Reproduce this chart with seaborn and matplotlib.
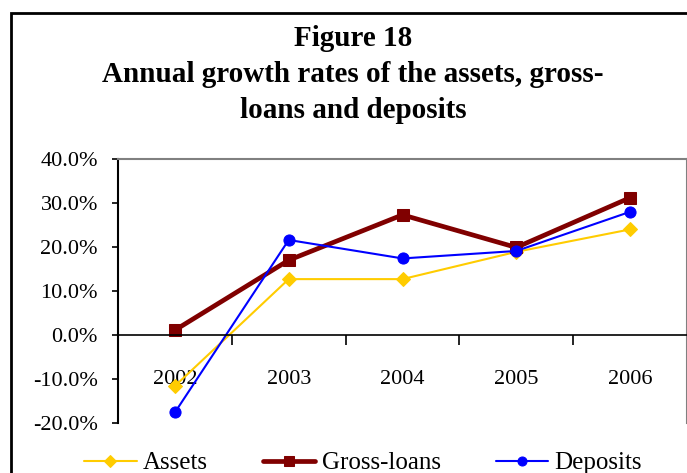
import pandas as pd
import matplotlib.pyplot as plt
import seaborn as sns
from matplotlib.patches import Rectangle
from matplotlib.ticker import PercentFormatter

years = ['2002', '2003', '2004', '2005', '2006']
assets = [-11.6, 12.7, 12.7, 18.9, 24.0]
gross_loans = [1.1, 17.0, 27.3, 19.9, 31.2]
deposits = [-17.6, 21.6, 17.4, 19.1, 28.0]

series_names = ['Assets', 'Gross-loans', 'Deposits']
colors = ['#FFCC00', '#800000', '#0000FF']
markers = ['D', 's', 'o']
widths = [1.5, 3.4, 1.5]
msizes = [7, 8, 8]

sns.set_style('white', {'text.color': 'black', 'xtick.color': 'black',
                        'ytick.color': 'black', 'axes.labelcolor': 'black'})
plt.rcParams['font.family'] = ['Liberation Serif', 'DejaVu Serif']
plt.rcParams['axes.unicode_minus'] = False

df = pd.DataFrame({'year': years * 3,
                   'rate': assets + gross_loans + deposits,
                   'series': [s for s in series_names for _ in years]})

fig = plt.figure(figsize=(6.87, 4.73), dpi=100)
ax = fig.add_axes([118 / 687, 1 - 423 / 473, 569 / 687, 264 / 473])

for name, c, m, lw, ms in zip(series_names, colors, markers, widths, msizes):
    sub = df[df['series'] == name]
    sns.lineplot(data=sub, x='year', y='rate', ax=ax, color=c, marker=m,
                 linewidth=lw, markersize=ms, markeredgecolor=c, label=name,
                 legend=False)

ax.set_xlim(-0.5, 4.5)
ax.set_ylim(-20, 40)
ax.set_yticks(range(-20, 41, 10))
ax.yaxis.set_major_formatter(PercentFormatter(decimals=1))
ax.tick_params(axis='y', direction='out', length=4.5, width=1.2, labelsize=16, pad=10,
               left=True, color='black')
ax.set_xlabel('')
ax.set_ylabel('')

# x axis at zero with marks at category boundaries
ax.spines['bottom'].set_position(('data', 0))
ax.spines['bottom'].set_color('black')
ax.spines['bottom'].set_linewidth(1.2)
ax.set_xticks(range(5))
ax.set_xticks([i - 0.5 for i in range(6)], minor=True)
ax.tick_params(axis='x', which='major', length=0, labelsize=16, pad=25)
ax.tick_params(axis='x', which='minor', direction='out', length=7, width=1.2,
               bottom=True, color='black')
ax.spines['left'].set_color('black')
ax.spines['left'].set_linewidth(1.5)
for s in ['top', 'right']:
    ax.spines[s].set_color('#808080')
    ax.spines[s].set_linewidth(1.5)

# chart title
fig.text(353 / 687, 1 - 38 / 473, 'Figure 18', ha='center', va='center',
         fontsize=21, fontweight='bold')
fig.text(353 / 687, 1 - 74 / 473, 'Annual growth rates of the assets, gross-',
         ha='center', va='center', fontsize=21, fontweight='bold')
fig.text(353 / 687, 1 - 110 / 473, 'loans and deposits', ha='center',
         va='center', fontsize=21, fontweight='bold')

# outer chart border
fig.patches.append(Rectangle((11 / 687, -0.2), 1.2, 1.2 - 13 / 473,
                             transform=fig.transFigure, fill=False,
                             edgecolor='black', linewidth=2))

handles, labels = ax.get_legend_handles_labels()
leg = fig.legend(handles, labels, loc='center', bbox_to_anchor=(363 / 687, 1 - 463 / 473),
                 ncol=3, frameon=False, fontsize=18, handlelength=2.1,
                 columnspacing=2.2, handletextpad=0.25)
for h in leg.legend_handles:
    h.set_markersize(6.5)

fig.savefig('out.png', dpi=100)
